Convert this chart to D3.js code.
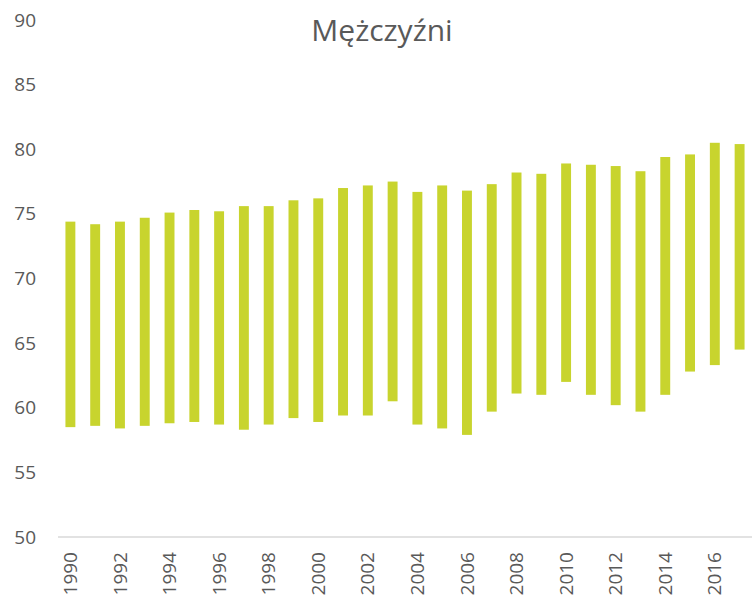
<!DOCTYPE html>
<html>
<head>
<meta charset="utf-8">
<script src="https://cdn.jsdelivr.net/npm/d3@7"></script>
<style>
  body { margin: 0; background: #fff; }
  svg text { font-family: "Open Sans", "Noto Sans", sans-serif; fill: #595959; }
</style>
</head>
<body>
<svg id="chart" width="752" height="601"></svg>
<script>
// ------------------------------
// DONNEES
// ------------------------------
const years = d3.range(1990, 2018);
const maxVals = [74.4, 74.2, 74.4, 74.7, 75.1, 75.3, 75.2, 75.6, 75.6, 76.05,
                 76.2, 77.0, 77.2, 77.5, 76.7, 77.2, 76.8, 77.3, 78.2, 78.1,
                 78.9, 78.8, 78.7, 78.3, 79.4, 79.6, 80.5, 80.4];
const minVals = [58.5, 58.6, 58.4, 58.6, 58.8, 58.9, 58.7, 58.3, 58.7, 59.2,
                 58.9, 59.4, 59.4, 60.5, 58.7, 58.4, 57.9, 59.7, 61.1, 61.0,
                 62.0, 61.0, 60.2, 59.7, 61.0, 62.8, 63.3, 64.5];
const yTicks = [50, 55, 60, 65, 70, 75, 80, 85, 90];
const title = "Mężczyźni";

// ------------------------------
// ECHELLES
// ------------------------------
const svg = d3.select("#chart");
const x = d3.scaleBand().domain(years).range([58, 752]).paddingInner(0.6).paddingOuter(0.3);
const y = d3.scaleLinear().domain([50, 90]).range([537, 20]);

// titre
svg.append("text")
  .attr("x", 382).attr("y", 41)
  .attr("text-anchor", "middle")
  .attr("font-size", 30)
  .text(title);

// axe Y (labels seulement)
const yAxis = svg.append("g").attr("transform", "translate(36,0)")
  .call(d3.axisLeft(y).tickValues(yTicks).tickSize(0).tickPadding(0));
yAxis.select(".domain").remove();
yAxis.selectAll("text").attr("font-size", 19).attr("fill", "#595959")
  .style("font-family", "'Open Sans', sans-serif");

// barres flottantes
svg.selectAll("rect.bar")
  .data(years).enter()
  .append("rect")
  .attr("class", "bar")
  .attr("x", d => x(d))
  .attr("width", x.bandwidth())
  .attr("y", (d, i) => y(maxVals[i]))
  .attr("height", (d, i) => y(minVals[i]) - y(maxVals[i]))
  .attr("fill", "#c8d42e");

// ligne de base
svg.append("line")
  .attr("x1", 58).attr("x2", 752)
  .attr("y1", y(50)).attr("y2", y(50))
  .attr("stroke", "#d9d9d9").attr("stroke-width", 1.5);

// axe X (une annee sur deux, texte vertical)
const xAxis = svg.append("g").attr("transform", `translate(0,${y(50)})`)
  .call(d3.axisBottom(x).tickValues(years.filter(d => d % 2 === 0)).tickSize(0));
xAxis.select(".domain").remove();
xAxis.selectAll("text")
  .attr("font-size", 19).attr("fill", "#595959")
  .style("font-family", "'Open Sans', sans-serif")
  .attr("text-anchor", "end")
  .attr("x", 0).attr("y", 0)
  .attr("dy", "0.35em")
  .attr("transform", "translate(0,15) rotate(-90)");
</script>
</body>
</html>
